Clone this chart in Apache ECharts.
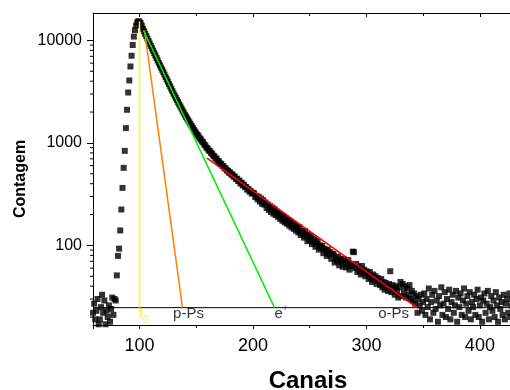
<!DOCTYPE html>
<html><head><meta charset="utf-8">
<script src="https://cdn.jsdelivr.net/npm/echarts@6/dist/echarts.min.js"></script>
<style>html,body{margin:0;padding:0;background:#fff}#c{width:510px;height:390px}</style>
</head><body><div id="c"></div>
<script>
// ---- data ----
const firstChannel = 59;
const counts = [
  22,27,19,23,30,17,19,25,33,22,29,17,23,20,26,18,24,31,21,30,29,
  51,79,93,140,224,364,571,837,1395,2106,3105,4067,5572,7092,9020,10900,12600,14000,15000,15400,15200,
  14700,13900,13000,12300,11600,11000,10400,9850,9300,8850,
  8380,7950,7520,7120,6730,6380,6040,5720,5430,5170,
  4900,4640,4400,4170,3960,3750,3560,3380,3200,3030,
  2890,2750,2620,2500,2380,2270,2170,2070,1970,1880,
  1800,1730,1660,1590,1520,1460,1400,1340,1290,1240,
  1200,1165,1110,1085,1035,1015,965,945,900,885,
  845,835,800,785,750,740,708,700,665,660,
  630,625,598,592,566,563,538,535,512,515,
  490,492,468,470,445,448,424,430,402,410,
  385,392,370,372,350,355,334,340,320,326,
  322,296,305,282,298,268,287,255,276,250,
  262,232,251,222,242,212,234,204,226,198,
  214,190,206,181,199,174,192,168,185,163,
  178,156,172,150,164,145,158,139,152,134,
  150,126,139,131,119,138,124,110,127,113,
  121,103,109,116,97,104,110,91,100,95,
  99,84,93,88,79,91,82,86,74,83,
  82,68,76,71,78,64,73,69,62,74,
  70,61,66,72,58,65,63,87,86,60,
  66,55,61,57,52,63,54,58,50,56,
  53,47,55,49,44,52,46,50,42,48,
  45,41,47,39,44,37,43,40,36,42,
  56,35,41,38,33,40,36,31,39,44,
  32,42,35,40,31,38,33,41,30,36,
  29,34,27,32,22,30,26,33,23,28,
  34,21,30,25,38,19,28,33,22,36,
  24,29,18,32,26,39,21,27,35,20,
  30,24,37,19,28,33,22,26,36,18,
  31,25,34,21,29,38,20,27,32,23,
  35,19,28,25,33,21,30,37,20,26,
  31,18,29,34,22,27,36,19,25,32,
  23,29,20,35,26,18,31,24,28,21,
  33,19,27,30,22,34,20,26,31,18,
  29,23,33,21,27,30,19
];
const xTickLabels = [100, 200, 300, 400];
const yTickLabels = [100, 1000, 10000];
const yMinorTicks = [20,30,40,50,60,70,80,90,200,300,400,500,600,700,800,900,2000,3000,4000,5000,6000,7000,8000,9000];
const t0Line   = [[100, 15300], [100, 24.7]];
const pPsLine  = [[104.4, 12470], [137.9, 24.7]];
const ePlusLine= [[103.5, 12540], [219, 24.7]];
const oPsLine  = [[159.4, 711], [344.6, 24.7]];
const baseLine = [[59, 24.7], [438, 24.7]];
const annoText  = ['t', '0', 'p-Ps', 'e', '+', 'o-Ps'];
const annoCh    = [101.1, 105.5, 143.2, 222.6, 228.3, 324];
const annoCount = [21.4, 18.7, 21.4, 21.4, 24.5, 21.4];

const X_MIN = 59, X_MAX = 438, Y_MIN = 16.73, Y_MAX = 18520;
const FF = '"Liberation Sans", Arial, Helvetica, sans-serif';

const points = counts.map((c, i) => [firstChannel + i, c]);
const annoSizes = [15, 10, 15, 15, 9, 15];
const annoColors = ['#f0f000', '#f0f000', '#000', '#000', '#000', '#000'];
const annoData = annoText.map((t, i) => ({
  value: [annoCh[i], annoCount[i]],
  label: { show: true, position: 'inside', formatter: t, fontSize: annoSizes[i], color: annoColors[i], fontFamily: FF }
}));

function lineSeries(data, color, z) {
  return { type: 'line', data: data, symbol: 'none', silent: true, z: z || 4,
    lineStyle: { color: color, width: 1.5 }, animation: false };
}

const chart = echarts.init(document.getElementById('c'), null, { renderer: 'canvas' });
chart.setOption({
  animation: false,
  backgroundColor: '#fff',
  grid: { left: 93, right: -13, top: 13, bottom: 65, containLabel: false, outerBoundsMode: 'none' },
  xAxis: [{
    type: 'value', min: X_MIN, max: X_MAX, position: 'bottom', splitNumber: 4,
    axisLine: { show: true, onZero: false, lineStyle: { color: '#000', width: 1 } },
    axisTick: { show: true, inside: false, length: 4, lineStyle: { color: '#000' } },
    minorTick: { show: true, splitNumber: 2, length: 3, lineStyle: { color: '#000' } },
    splitLine: { show: false },
    axisLabel: { margin: 12, fontSize: 18, color: '#000', fontFamily: FF,
      showMinLabel: false, showMaxLabel: false,
      formatter: v => xTickLabels.includes(Math.round(v)) ? String(Math.round(v)) : '' },
    name: 'Canais', nameLocation: 'middle', nameGap: 44,
    nameTextStyle: { fontSize: 24, fontWeight: 'bold', color: '#000', fontFamily: FF }
  }, {
    type: 'value', min: X_MIN, max: X_MAX, position: 'top', splitNumber: 4,
    axisLine: { show: true, onZero: false, lineStyle: { color: '#000', width: 1 } },
    axisTick: { show: true, inside: true, length: 4, lineStyle: { color: '#000' } },
    minorTick: { show: true, splitNumber: 2, length: 3, lineStyle: { color: '#000' } },
    splitLine: { show: false },
    axisLabel: { show: false }
  }],
  yAxis: {
    type: 'log', logBase: 10, min: Y_MIN, max: Y_MAX,
    axisLine: { show: true, onZero: false, lineStyle: { color: '#000', width: 1 } },
    axisTick: { show: true, inside: false, length: 6, lineStyle: { color: '#000' } },
    splitLine: { show: false },
    axisLabel: { margin: 11, fontSize: 16, color: '#000', fontFamily: FF,
      showMinLabel: false, showMaxLabel: false,
      formatter: v => yTickLabels.includes(Math.round(v)) ? String(Math.round(v)) : '' }
  },
  graphic: [{
    type: 'text', x: 21, y: 179, rotation: Math.PI / 2,
    style: { text: 'Contagem', font: 'bold 16px ' + FF, fill: '#000', align: 'center', verticalAlign: 'middle' }
  }],
  series: [
    { type: 'line', data: baseLine, symbol: 'none', silent: true, z: 1,
      lineStyle: { color: '#000', width: 1 } },
    { type: 'scatter', data: points, symbol: 'rect', symbolSize: 6, z: 2,
      itemStyle: { color: '#000' }, silent: true },
    lineSeries(t0Line, '#ffff00', 5),
    lineSeries(pPsLine, '#ff8000', 5),
    lineSeries(ePlusLine, '#00ee00', 5),
    lineSeries(oPsLine, '#ff0000', 5),
    { type: 'scatter', data: annoData, symbolSize: 0, z: 6, silent: true, clip: false },
    { type: 'custom', silent: true, z: 6, clip: false,
      data: yMinorTicks.map(v => [X_MIN, v]),
      renderItem: (params, api) => {
        const p = api.coord([api.value(0), api.value(1)]);
        return { type: 'line', shape: { x1: p[0] - 3, y1: p[1], x2: p[0], y2: p[1] },
          style: { stroke: '#000', lineWidth: 1 } };
      } }
  ]
});
</script></body></html>
